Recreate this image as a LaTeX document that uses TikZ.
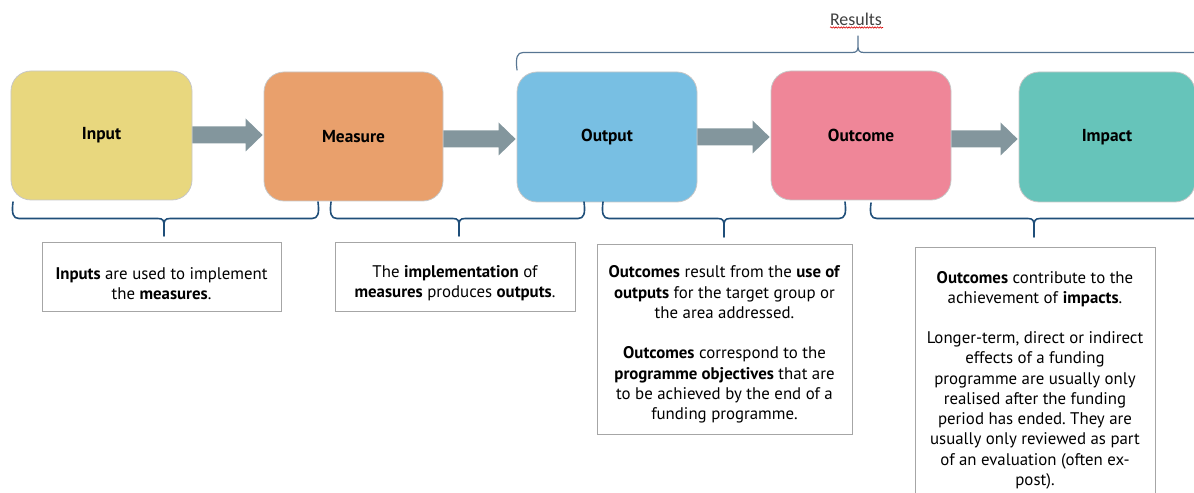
\documentclass[tikz,border=0pt]{standalone}
\usepackage{fontspec}
\setmainfont{PT Sans}
\newfontfamily\resfont{Carlito}
\usetikzlibrary{calc,decorations.pathmorphing}
\frenchspacing
\definecolor{cInput}{HTML}{E8D77E}
\definecolor{cMeasure}{HTML}{E9A06C}
\definecolor{cOutput}{HTML}{78BFE3}
\definecolor{cOutcome}{HTML}{EF8698}
\definecolor{cImpact}{HTML}{66C4BA}
\definecolor{arrowc}{HTML}{83969D}
\definecolor{bracec}{HTML}{1F4E79}
\definecolor{topbracec}{HTML}{577592}
\definecolor{tboxc}{HTML}{A6A6A6}
\newcommand\flowarr[3]{%
  \fill[arrowc] ($(#1.east|-0,#3)+(0,-8.5)$) -- ($(#2.west|-0,#3)+(-18,-8.5)$)
    -- ($(#2.west|-0,#3)+(-18,-16.5)$) -- ($(#2.west|-0,#3)+(-1,0)$)
    -- ($(#2.west|-0,#3)+(-18,16.5)$) -- ($(#2.west|-0,#3)+(-18,8.5)$)
    -- ($(#1.east|-0,#3)+(0,8.5)$) -- cycle;}
% #1 x0, #2 x1, #3 tip x, #4 end y, #5 bar y, #6 tip y, #7 style
\newcommand\curlybrace[7]{%
  \draw[#7] (#1,#4) .. controls (#1-1.5,{#5+0.3*(#4-#5)}) and (#1,#5) .. (#1+6,#5)
    -- (#3-6,#5) .. controls (#3-1,#5) and (#3,{#5+0.12*(#6-#5)}) .. (#3,{#5+0.4*(#6-#5)})
    -- (#3,#6)
    (#3,{#5+0.4*(#6-#5)}) .. controls (#3,{#5+0.12*(#6-#5)}) and (#3+1,#5) .. (#3+6,#5)
    -- (#2-6,#5) .. controls (#2,#5) and (#2+1.5,{#5+0.3*(#4-#5)}) .. (#2,#4);}
\begin{document}
\begin{tikzpicture}[x=1bp,y=-1bp,
  stage/.style={rounded corners=20bp, draw=black!22, line width=0.8bp, inner sep=0pt,
    font=\fontsize{17.4}{20}\selectfont\bfseries},
  infobox/.style={draw=tboxc, line width=0.9bp, fill=white, inner sep=0pt},
  infotext/.style={align=center, inner sep=0pt, font=\fontsize{16.9}{20.3}\selectfont},
  lowbrace/.style={draw=bracec, line width=1.6bp, line join=round, line cap=round},
  highbrace/.style={draw=topbracec, line width=1.2bp, line join=round, line cap=round}]
\useasboundingbox (0,0) rectangle (1194,493);
\clip (0,0) rectangle (1194,493);

% stages
\node[stage, fill=cInput, minimum width=181bp, minimum height=129bp] (input) at (101.5,135.5) {Input};
\node[stage, fill=cMeasure, minimum width=179bp, minimum height=129bp] (measure) at (353.5,136.5) {Measure};
\node[stage, fill=cOutput, minimum width=180bp, minimum height=130bp] (output) at (607,137) {Output};
\node[stage, fill=cOutcome, minimum width=180bp, minimum height=129bp] (outcome) at (861,135.5) {Outcome};
\node[stage, fill=cImpact, minimum width=176bp, minimum height=130bp] (impact) at (1107,137) {Impact};

% arrows
\flowarr{input}{measure}{135}
\flowarr{measure}{output}{139}
\flowarr{output}{outcome}{137}
\flowarr{outcome}{impact}{139}

% braces
\curlybrace{13}{318}{164}{202}{218.5}{236}{lowbrace}
\curlybrace{331}{584}{459}{202}{218.5}{236}{lowbrace}
\curlybrace{603}{845}{724}{202}{218.5}{237}{lowbrace}
\curlybrace{871}{1260}{1034}{203}{218.5}{237}{lowbrace}
\curlybrace{517}{1260}{858}{70}{52.5}{36}{highbrace}

% results label
\node[font=\resfont\fontsize{18}{20}\selectfont, text=black!75, inner sep=0pt] (results) at (856,19) {Results};
\draw[red!85!black, line width=0.6bp, decorate, decoration={snake, amplitude=0.7bp, segment length=2.6bp}]
  (830,27.5) -- (883,27.5);

% info boxes
\node[infobox, minimum width=239bp, minimum height=69bp] (box1) at (161.5,276.5) {};
\node[infotext] (text1) at (161.5,283.5) {\textbf{Inputs} are used to implement\\the \textbf{measures}.};

\node[infobox, minimum width=240bp, minimum height=69bp] (box2) at (455,276.5) {};
\node[infotext] (text2) at (455,283.5) {The \textbf{implementation} of\\\textbf{measures} produces \textbf{outputs}.};

\node[infobox, minimum width=255bp, minimum height=190bp] (box3) at (724.5,339) {};
\node[infotext] (text3) at (724.5,344.5) {\textbf{Outcomes} result from the \textbf{use of}\\\textbf{outputs} for the target group or\\the area addressed.\\[20.3bp]\textbf{Outcomes} correspond to the\\\textbf{programme objectives} that are\\to be achieved by the end of a\\funding programme.};

\node[infobox, minimum width=240bp, minimum height=273bp] (box4) at (1035,383.5) {};
\node[infotext] (text4) at (1035,380) {\textbf{Outcomes} contribute to the\\achievement of \textbf{impacts}.\\[20.3bp]Longer-term, direct or indirect\\effects of a funding\\programme are usually only\\realised after the funding\\period has ended. They are\\usually only reviewed as part\\of an evaluation (often ex-\\post).};
\end{tikzpicture}
\end{document}
